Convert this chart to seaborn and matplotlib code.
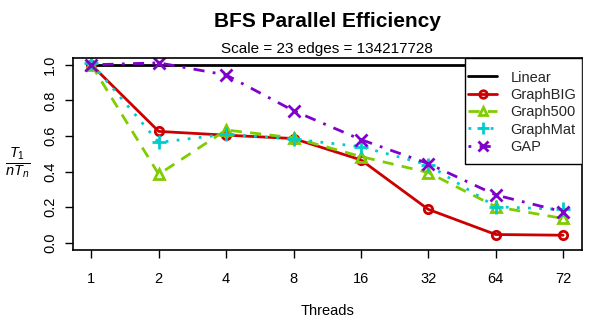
import matplotlib
matplotlib.use("Agg")
import matplotlib.pyplot as plt
import seaborn as sns
import pandas as pd
from matplotlib.patches import Rectangle

threads = ["1", "2", "4", "8", "16", "32", "64", "72"]
linear = [1.0, 1.0, 1.0, 1.0, 1.0, 1.0, 1.0, 1.0]
graphbig = [1.0, 0.626, 0.605, 0.586, 0.466, 0.188, 0.047, 0.043]
graph500 = [1.0, 0.385, 0.634, 0.590, 0.485, 0.395, 0.203, 0.137]
graphmat = [1.01, 0.564, 0.610, 0.583, 0.540, 0.438, 0.203, 0.188]
gap = [1.0, 1.011, 0.943, 0.742, 0.580, 0.445, 0.269, 0.175]
yticks = [0.0, 0.2, 0.4, 0.6, 0.8, 1.0]
ytick_labels = ["0.0", "0.2", "0.4", "0.6", "0.8", "1.0"]

sns.set_theme(style="ticks")
plt.rcParams["font.family"] = ["Liberation Sans", "DejaVu Sans"]
plt.rcParams["mathtext.fontset"] = "custom"
plt.rcParams["mathtext.rm"] = "Liberation Sans"
plt.rcParams["mathtext.it"] = "Liberation Sans:italic"

fig = plt.figure(figsize=(5.98, 3.18), dpi=100)
ax = fig.add_axes([72.5 / 598, 1 - 250 / 318, (582 - 72.5) / 598, (250 - 57.7) / 318])

series = [
    ("Linear", linear, "black", None, None, 0),
    ("GraphBIG", graphbig, "#CC0000", "o", None, 6),
    ("Graph500", graph500, "#80CC00", "^", (4, 3), 7),
    ("GraphMat", graphmat, "#00CCCC", "+", (1, 3), 10),
    ("GAP", gap, "#8000CC", "x", (1, 3, 4, 3), 8),
]

handles = []
for name, vals, color, marker, dashes, ms in series:
    df = pd.DataFrame({"Threads": threads, "val": vals})
    kws = dict(color=color, linewidth=2.0, ax=ax, legend=False)
    if marker is not None:
        kws.update(marker=marker, markersize=ms, markeredgewidth=2.0,
                   markerfacecolor="none", markeredgecolor=color)
    sns.lineplot(data=df, x="Threads", y="val", sort=False, **kws)
    line = ax.lines[-1]
    if dashes is not None:
        line.set_dashes(dashes)
    handles.append(line)

ax.set_xlim(-0.28, 7.28)
ax.set_ylim(-0.04, 1.04)
ax.set_yticks(yticks)
ax.set_yticklabels(ytick_labels)
for s in ax.spines.values():
    s.set_visible(True)
    s.set_linewidth(1.2)
    s.set_color("black")
ax.tick_params(axis="both", direction="out", length=6, width=1.0, color="black",
               labelsize=10.5, labelcolor="black")
ax.tick_params(axis="x", pad=10)
ax.tick_params(axis="y", pad=5, labelrotation=90)
for lab in ax.get_yticklabels():
    lab.set_va("center")

ax.set_xlabel("Threads", fontsize=10.5, color="black")
ax.xaxis.set_label_coords(0.5, (250 - 311) / 192.3)
ax.xaxis.label.set_va("center")
ax.set_ylabel(r"$\frac{T_1}{nT_n}$", fontsize=15, rotation=0, color="black")
ax.yaxis.set_label_coords((18 - 72.5) / 509.5, (250 - 163) / 192.3)
ax.yaxis.label.set_va("center")
ax.yaxis.label.set_ha("center")

fig.text(327 / 598, 1 - 21.9 / 318, "BFS Parallel Efficiency", ha="center", va="center",
         fontsize=15, fontweight="bold", color="black")
fig.text(327 / 598, 1 - 49.4 / 318, "Scale = 23 edges = 134217728", ha="center", va="center",
         fontsize=11, color="black")

# legend frame (R-style box in the top-right corner)
aw, ah = 509.5, 192.3
frame = Rectangle(((465 - 72.5) / aw, (250 - 164) / ah), (582 - 465) / aw, (164 - 57.7) / ah,
                  transform=ax.transAxes, facecolor="white", edgecolor="black",
                  linewidth=1.0, zorder=5)
ax.add_patch(frame)
leg = ax.legend(handles=handles, labels=[s[0] for s in series], loc="upper left",
                bbox_to_anchor=((468 - 72.5) / aw, (250 - 70.5) / ah), borderaxespad=0,
                frameon=False, fontsize=10.5, handlelength=2.0, handletextpad=0.9,
                labelspacing=0.23, borderpad=0)
leg.set_zorder(6)
for h in leg.legend_handles:
    if h.get_marker() not in (None, "None", ""):
        h.set_markersize(h.get_markersize() * 0.9)

fig.savefig("out.png", dpi=100)
